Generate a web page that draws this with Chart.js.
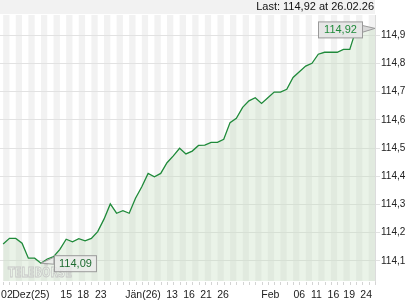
<!DOCTYPE html>
<html lang="de">
<head>
    <meta charset="UTF-8">
    <title>Kursverlauf</title>
    <script src="https://cdn.jsdelivr.net/npm/chart.js"></script>
    <style>
        body { margin: 0; background: #fff; }
        canvas { display: block; }
    </style>
</head>
<body>
    <canvas id="price-chart" width="420" height="300"></canvas>

    <script>
        // daily closing prices
        const values = [114.160, 114.180, 114.180, 114.163, 114.110, 114.110, 114.092, 114.107, 114.115, 114.141,
                        114.177, 114.168, 114.179, 114.171, 114.180, 114.204, 114.248, 114.302, 114.269, 114.278,
                        114.269, 114.322, 114.363, 114.410, 114.398, 114.410, 114.448, 114.472, 114.499, 114.479,
                        114.489, 114.509, 114.510, 114.520, 114.520, 114.531, 114.590, 114.605, 114.644, 114.667,
                        114.678, 114.658, 114.678, 114.698, 114.698, 114.708, 114.750, 114.770, 114.790, 114.800,
                        114.832, 114.839, 114.839, 114.839, 114.849, 114.849, 114.920];
        const lastDate = '26.02.26';

        // x axis labels and where they sit (in trading-day units)
        const xTickLabels = ['02', 'Dez(25)', '15', '18', '23', 'Jän(26)', '13', '16', '21', '26',
                             'Feb', '06', '11', '16', '19', '24'];
        const xTickPos = [0.6, 4.4, 10.0, 12.7, 15.5, 22.2, 26.8, 29.5, 32.2, 34.9,
                          42.4, 47.0, 49.7, 52.4, 54.9, 57.6];
        const yTicks = [114.1, 114.2, 114.3, 114.4, 114.5, 114.6, 114.7, 114.8, 114.9];

        const fmt = (v, d) => v.toFixed(d).replace('.', ',');
        const fillColor = 'rgba(196, 222, 190, 0.35)';

        // stripes, top band, day ticks and the extension of the fill
        const backdrop = {
            id: 'backdrop',
            beforeDraw(chart) {
                const { ctx, chartArea: a, scales: { x } } = chart;
                ctx.save();
                ctx.fillStyle = '#f2f2f2';
                ctx.fillRect(0, 0, a.right, 14);
                for (let i = 0; i < 59; i += 2) {
                    const x0 = x.getPixelForValue(i), x1 = x.getPixelForValue(i + 1);
                    ctx.fillRect(x0, a.top, Math.min(x1, a.right) - x0, a.bottom - a.top);
                }
                ctx.strokeStyle = '#d4d4d4';
                ctx.lineWidth = 1;
                ctx.beginPath();
                for (let i = 0; i <= 59; i++) {
                    const px = Math.round(x.getPixelForValue(i)) + 0.5;
                    ctx.moveTo(px, a.bottom + 1);
                    ctx.lineTo(px, a.bottom + 4);
                }
                ctx.stroke();
                ctx.restore();
            },
            beforeDatasetsDraw(chart) {
                const { ctx, chartArea: a, scales: { x, y } } = chart;
                const last = values.length - 1;
                const px = x.getPixelForValue(last), py = y.getPixelForValue(values[last]);
                ctx.save();
                ctx.fillStyle = fillColor;
                ctx.fillRect(px, py, a.right - px, a.bottom - py);
                ctx.restore();
            }
        };

        // header text, watermark and the two value flags
        const labels = {
            id: 'labels',
            afterDraw(chart) {
                const { ctx, chartArea: a, scales: { x, y } } = chart;
                const last = values.length - 1;
                const minVal = Math.min(...values);
                const minIdx = values.indexOf(minVal);
                ctx.save();

                ctx.font = '11px "Liberation Sans", Arial, sans-serif';
                ctx.fillStyle = '#111';
                ctx.textAlign = 'right';
                ctx.textBaseline = 'middle';
                ctx.fillText('Last: ' + fmt(values[last], 2) + ' at ' + lastDate, a.right - 1, 7);

                // watermark
                ctx.font = 'bold 14px "DejaVu Sans", sans-serif';
                ctx.textAlign = 'left';
                ctx.strokeStyle = '#c8c8c8';
                ctx.lineWidth = 1;
                ctx.strokeText('TELEBÖRSE', 8, 273, 64);

                // last value flag
                const ly = y.getPixelForValue(values[last]);
                const bx1 = a.right - 13, bx0 = bx1 - 44;
                ctx.fillStyle = '#d8d8d8';
                ctx.strokeStyle = '#9a9a9a';
                ctx.beginPath();
                ctx.moveTo(bx1, ly - 4);
                ctx.lineTo(a.right, ly - 1);
                ctx.lineTo(bx1, ly + 3);
                ctx.closePath();
                ctx.fill();
                ctx.stroke();
                ctx.fillStyle = '#e6e6e6';
                ctx.fillRect(bx0 + 0.5, ly - 7.5, 44, 16);
                ctx.strokeRect(bx0 + 0.5, ly - 7.5, 44, 16);
                ctx.fillStyle = '#1f8a3a';
                ctx.font = '11px "Liberation Sans", Arial, sans-serif';
                ctx.textAlign = 'center';
                ctx.fillText(fmt(values[last], 2), bx0 + 22.5, ly + 0.5);

                // min value flag
                const mx = x.getPixelForValue(minIdx), my = y.getPixelForValue(minVal);
                const mb0 = mx + 13;
                ctx.fillStyle = 'rgba(236, 236, 236, 0.75)';
                ctx.strokeStyle = '#9a9a9a';
                ctx.beginPath();
                ctx.moveTo(mx, my);
                ctx.lineTo(mb0, my - 6);
                ctx.lineTo(mb0, my + 1);
                ctx.closePath();
                ctx.fill();
                ctx.stroke();
                ctx.fillStyle = 'rgba(236, 236, 236, 0.75)';
                ctx.fillRect(mb0 + 0.5, my - 7.5, 42, 16);
                ctx.strokeRect(mb0 + 0.5, my - 7.5, 42, 16);
                ctx.fillStyle = '#1d6b30';
                ctx.fillText(fmt(minVal, 2), mb0 + 21.5, my + 0.5);

                ctx.restore();
            }
        };

        new Chart(document.getElementById('price-chart'), {
            type: 'line',
            data: {
                datasets: [{
                    data: values.map((v, i) => ({ x: i, y: v })),
                    borderColor: '#1f8a3a',
                    borderWidth: 1.3,
                    backgroundColor: fillColor,
                    fill: 'start',
                    pointRadius: 0,
                    tension: 0
                }]
            },
            options: {
                responsive: false,
                animation: false,
                layout: { padding: { top: 15, left: 0, right: 0, bottom: 0 } },
                plugins: { legend: { display: false }, tooltip: { enabled: false } },
                scales: {
                    x: {
                        type: 'linear',
                        min: -0.5,
                        max: 59,
                        grid: { display: false },
                        border: { display: false },
                        afterBuildTicks: s => { s.ticks = xTickPos.map(v => ({ value: v })); },
                        afterFit: s => { s.height = 19; },
                        ticks: {
                            autoSkip: false,
                            maxRotation: 0,
                            padding: 0,
                            color: '#222',
                            font: { size: 10.5, family: '"Liberation Sans", Arial, sans-serif' },
                            callback: (v, i) => xTickLabels[i]
                        }
                    },
                    y: {
                        position: 'right',
                        min: 114.029,
                        max: 114.971,
                        afterBuildTicks: s => { s.ticks = yTicks.map(v => ({ value: v })); },
                        afterFit: s => { s.width = 45; },
                        grid: { color: '#e2e2e2', tickLength: 5 },
                        border: { display: true, color: '#dcdcdc' },
                        ticks: {
                            padding: 1,
                            color: '#222',
                            font: { size: 10, family: '"Liberation Sans", Arial, sans-serif' },
                            callback: v => fmt(v, 1)
                        }
                    }
                }
            },
            plugins: [backdrop, labels]
        });
    </script>
</body>
</html>
